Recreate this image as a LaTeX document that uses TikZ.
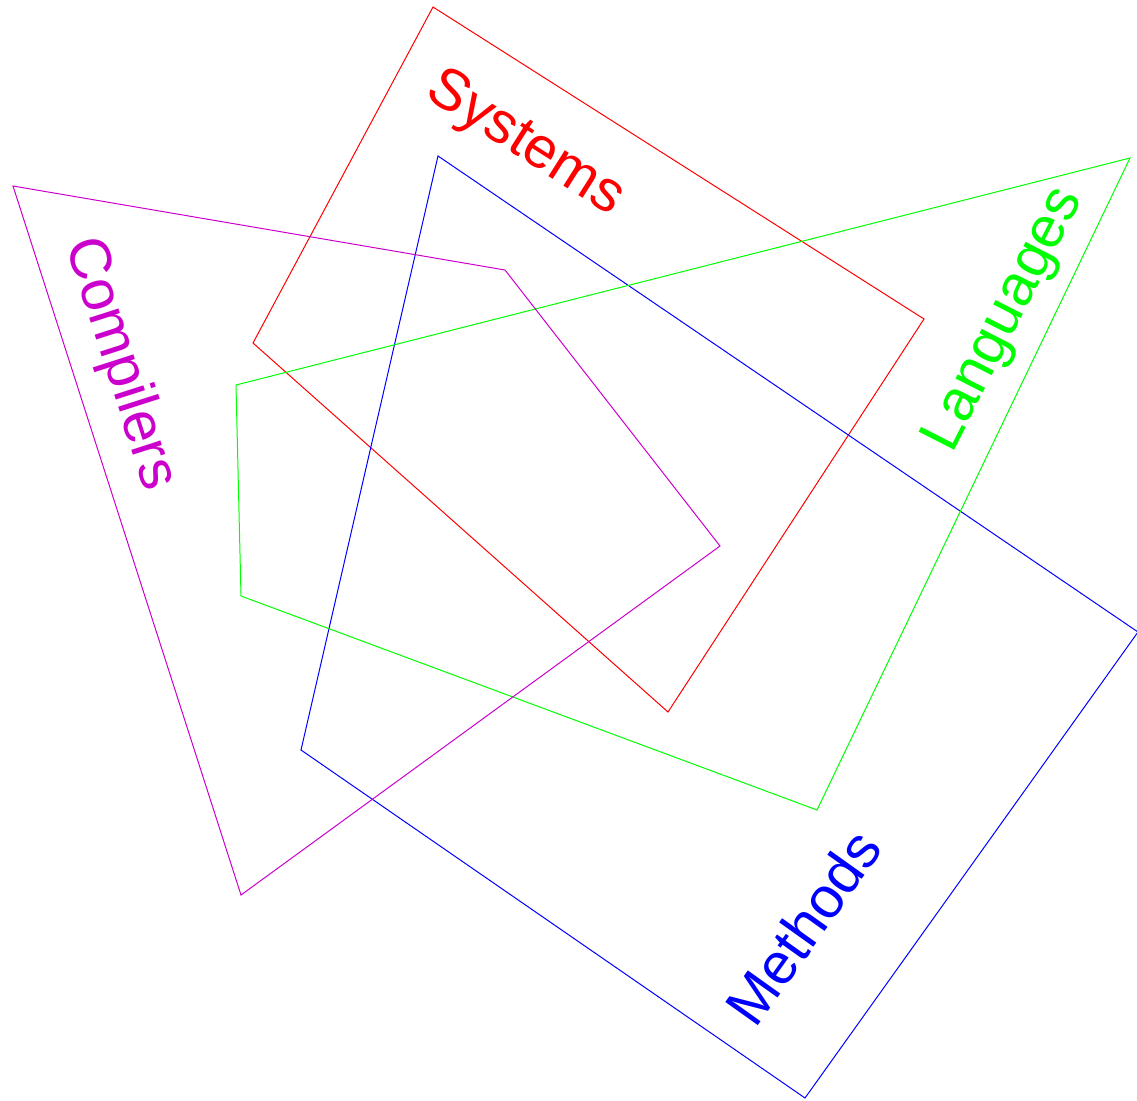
\documentclass[tikz,border=0pt]{standalone}
\usepackage{fontspec}
\setmainfont{Liberation Sans}
\definecolor{cred}{HTML}{FF0000}
\definecolor{cblue}{HTML}{0000FF}
\definecolor{cgreen}{HTML}{00FF00}
\definecolor{cmag}{HTML}{CC00CC}
\tikzset{
  setline/.style={draw=#1, line width=1pt, line join=miter},
  setlabel/.style={text=#1, font=\fontsize{58}{62}\selectfont, inner sep=0pt}
}
\begin{document}
\begin{tikzpicture}[x=1pt,y=-1pt]
\useasboundingbox (0,0) rectangle (1137,1100);
% Systems (red)
\coordinate (r1) at (433,7);
\coordinate (r2) at (924,319);
\coordinate (r3) at (668,712);
\coordinate (r4) at (253,343);
\draw[setline=cred] (r1) -- (r2) -- (r3) -- (r4) -- cycle;
% Methods (blue)
\coordinate (b1) at (438,156);
\coordinate (b2) at (1138,632);
\coordinate (b3) at (805,1098);
\coordinate (b4) at (301,750);
\draw[setline=cblue] (b1) -- (b2) -- (b3) -- (b4) -- cycle;
% Languages (green)
\coordinate (g1) at (1130,158);
\coordinate (g2) at (817,810);
\coordinate (g3) at (241,596);
\coordinate (g4) at (236,385);
\draw[setline=cgreen] (g1) -- (g2) -- (g3) -- (g4) -- cycle;
% Compilers (magenta)
\coordinate (m1) at (13,186);
\coordinate (m2) at (505,270);
\coordinate (m3) at (720,546);
\coordinate (m4) at (241,895);
\draw[setline=cmag] (m1) -- (m2) -- (m3) -- (m4) -- cycle;
% labels
\node[setlabel=cred, rotate=-32.4] (lsys) at (525,144) {Systems};
\node[setlabel=cmag, rotate=-72.2] (lcomp) at (120,364) {Compilers};
\node[setlabel=cgreen, rotate=63] (llang) at (1005,320) {Languages};
\node[setlabel=cblue, rotate=54.5] (lmeth) at (803,927) {Methods};
\end{tikzpicture}
\end{document}
